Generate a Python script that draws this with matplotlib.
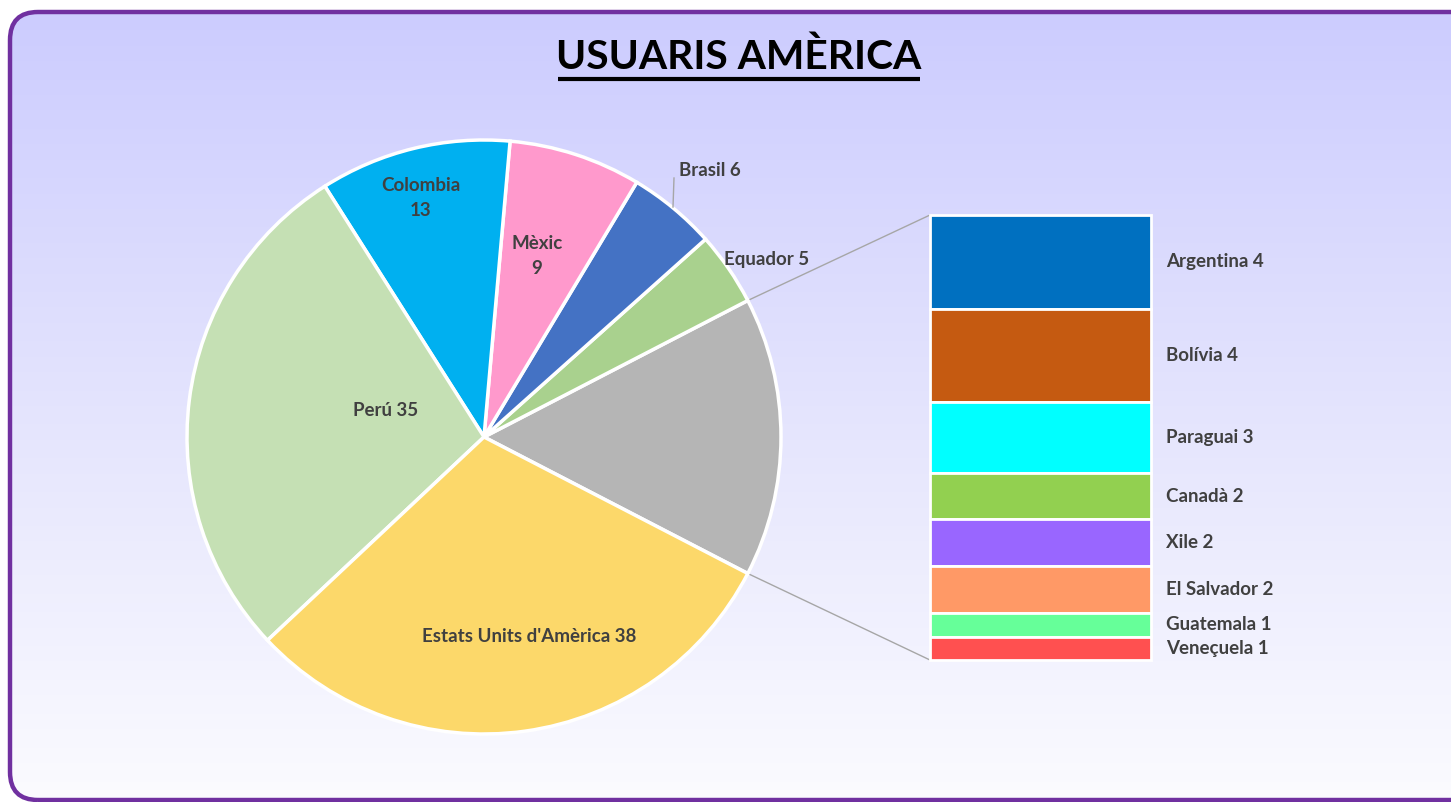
import numpy as np
import matplotlib
matplotlib.use('Agg')
import matplotlib.pyplot as plt
from matplotlib.patches import FancyBboxPatch
from matplotlib.colors import LinearSegmentedColormap

plt.rcParams['font.family'] = ['Lato', 'DejaVu Sans']

# main pie (counter-clockwise, starting with the "other" slice)
pie_names = ['Altres', 'Equador', 'Brasil', 'Mèxic', 'Colombia', 'Perú', "Estats Units d'Amèrica"]
pie_values = [19, 5, 6, 9, 13, 35, 38]
pie_colors = ['#b5b5b5', '#a9d18e', '#4472c4', '#ff99cc', '#00b0f0', '#c5e0b4', '#fcd86a']

# breakdown of "other" (top to bottom)
bar_names = ['Argentina', 'Bolívia', 'Paraguai', 'Canadà', 'Xile', 'El Salvador', 'Guatemala', 'Veneçuela']
bar_values = [4, 4, 3, 2, 2, 2, 1, 1]
bar_colors = ['#0070c0', '#c55a11', '#00ffff', '#92d050', '#9966ff', '#ff9966', '#66ff99', '#ff5050']

W, H = 1451, 802
fig = plt.figure(figsize=(W / 100, H / 100), dpi=100)
ax = fig.add_axes([0, 0, 1, 1])
ax.set_xlim(0, W)
ax.set_ylim(0, H)
ax.axis('off')

# background with rounded purple border
box = FancyBboxPatch((10, 2), 1470, 788, boxstyle='round,pad=0,rounding_size=28',
                     facecolor='none', edgecolor='#7030a0', linewidth=3.2, zorder=5)
ax.add_patch(box)
grad = np.linspace(1, 0, 256).reshape(-1, 1)
cmap = LinearSegmentedColormap.from_list('bg', ['#fbfbff', '#e4e4fd', '#ccccff'])
im = ax.imshow(grad, cmap=cmap, extent=[10, 1480, 2, 790], aspect='auto', zorder=0)
im.set_clip_path(box)

# pie
total = sum(pie_values)
start = -pie_values[0] / total * 360 / 2
cx, cy, r = 484, 365, 297
wedges, _ = ax.pie(pie_values, colors=pie_colors, startangle=start, counterclock=True,
                   center=(cx, cy), radius=r, frame=True,
                   wedgeprops=dict(edgecolor='white', linewidth=2.5))
ax.set_xlim(0, W)
ax.set_ylim(0, H)
ax.set_aspect('auto')
for w in wedges:
    w.set_zorder(2)

fs = 13.5
txt = dict(color='#404040', fontsize=fs, fontweight='bold', ha='center', va='center', zorder=4)
ax.text(421, 802 - 198, 'Colombia\n13', linespacing=1.6, **txt)
ax.text(537, 802 - 256, 'Mèxic\n9', linespacing=1.6, **txt)
ax.text(386, 802 - 411, 'Perú 35', **txt)
ax.text(529, 802 - 637, "Estats Units d'Amèrica 38", **txt)
ax.text(767, 802 - 259, 'Equador 5', **txt)
ax.text(710, 802 - 170, 'Brasil 6', **txt)
ax.plot([673, 674], [802 - 207, 802 - 178], color='#a6a6a6', lw=1, zorder=3)

# bar of "other"
bar_top, bar_bot = 802 - 215, 802 - 660
unit = (bar_top - bar_bot) / sum(bar_values)
heights = np.array(bar_values) * unit
bottoms = bar_top - np.cumsum(heights)
ax.bar([1040.5] * len(bar_values), heights, width=221, bottom=bottoms, color=bar_colors,
       edgecolor='white', linewidth=2, zorder=2)
for name, v, b, h in zip(bar_names, bar_values, bottoms, heights):
    ax.text(1166, b + h / 2, f'{name} {v}', color='#404040', fontsize=fs,
            fontweight='bold', ha='left', va='center', zorder=4)

# connector lines
a = np.radians(-start)
ax.plot([cx + r * np.cos(a), 930], [cy + r * np.sin(a), bar_top], color='#a6a6a6', lw=1, zorder=1)
ax.plot([cx + r * np.cos(a), 930], [cy - r * np.sin(a), bar_bot], color='#a6a6a6', lw=1, zorder=1)

# title, underlined
t = ax.text(739, 802 - 57, 'USUARIS AMÈRICA', fontsize=29.3, fontweight='bold',
            color='black', ha='center', va='center', zorder=4)
fig.canvas.draw()
bb = t.get_window_extent(fig.canvas.get_renderer())
ax.plot([bb.x0 + 2, bb.x1 - 2], [802 - 79, 802 - 79], color='black', lw=3,
        solid_capstyle='butt', zorder=4)

fig.savefig('out.png', dpi=100)
